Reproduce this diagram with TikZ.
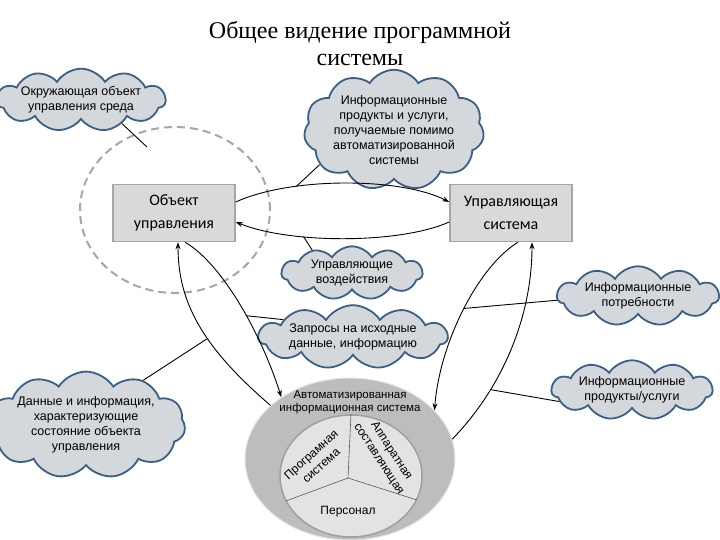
\documentclass[tikz,border=0pt]{standalone}
\usepackage{fontspec}
\setmainfont{Liberation Sans}
\newfontfamily\titlefont{Liberation Serif}
\newfontfamily\boxfont{Carlito}
\usetikzlibrary{shapes.symbols,shapes.geometric,arrows.meta}

\definecolor{cloudfill}{HTML}{D4D7DB}
\definecolor{cloudline}{HTML}{3E5F82}
\definecolor{boxfill}{HTML}{D9D9D9}
\definecolor{boxline}{HTML}{A6A6A6}
\definecolor{ringfill}{HTML}{BDBDBD}
\definecolor{piefill}{HTML}{E3E3E3}

\tikzset{
  cloudbox/.style={cloud, cloud puffs=11, cloud puff arc=115, cloud ignores aspect,
    draw=cloudline, line width=1.8pt, fill=cloudfill, align=center, inner sep=0pt,
    font=\fontsize{12.5}{15}\selectfont},
  ctrlbox/.style={draw=boxline, line width=1.5pt, fill=boxfill,
    minimum width=122pt, minimum height=57pt, align=center,
    font=\boxfont\fontsize{16}{23}\selectfont},
  arr/.style={-{Stealth[length=7pt,width=5pt]}, line width=0.9pt},
  link/.style={line width=0.9pt},
  dashcirc/.style={draw=boxline, line width=2pt, dash pattern=on 8pt off 5pt},
  sector/.style={align=center, font=\fontsize{12}{15}\selectfont},
}

\begin{document}
\begin{tikzpicture}[x=1pt,y=-1pt]
\fill[white] (0,0) rectangle (720,540);
\useasboundingbox (0,0) rectangle (720,540);

\node[font=\titlefont\fontsize{24}{27}\selectfont, align=center] (title) at (360,44)
  {Общее видение программной\\системы};

% environment
\draw[dashcirc] (175,210) ellipse[x radius=95pt, y radius=83pt];
\coordinate (envpt) at (147,147);

\node[cloudbox, minimum width=160pt, minimum height=52pt] (env) at (81,100)
  {Окружающая объект\\управления среда};
\node[cloudbox, minimum width=170pt, minimum height=98pt] (extra) at (394,130)
  {Информационные\\продукты и услуги,\\получаемые помимо\\автоматизированной\\системы};
\node[cloudbox, minimum width=141pt, minimum height=49pt] (ctrl) at (352,273)
  {Управляющие\\воздействия};
\node[cloudbox, minimum width=162pt, minimum height=58pt] (needs) at (638,296)
  {Информационные\\потребности};
\node[cloudbox, minimum width=189pt, minimum height=52pt] (req) at (353,337)
  {Запросы на исходные\\данные, информацию};
\node[cloudbox, minimum width=165pt, minimum height=96pt] (state) at (86,425)
  {Данные и информация,\\характеризующие\\состояние объекта\\управления};
\node[cloudbox, minimum width=161pt, minimum height=56pt] (prod) at (632,390)
  {Информационные\\продукты/услуги};

\node[ctrlbox] (obj) at (174,213) {Объект\\управления};
\node[ctrlbox] (upr) at (511,213) {Управляющая\\система};

% AIS
\node[ellipse, fill=ringfill, draw=white!80!gray, line width=1pt,
  minimum width=210pt, minimum height=162pt] (ais) at (350,459) {};
\node[ellipse, fill=piefill, draw=gray!75, line width=1.5pt,
  minimum width=142pt, minimum height=122pt] (pie) at (351,476) {};
\coordinate (pc) at (348,478);
\draw[gray!70!black, line width=0.6pt] (pc) -- (pie.north);
\draw[gray!70!black, line width=0.6pt] (pc) -- (pie.201);
\draw[gray!70!black, line width=0.6pt] (pc) -- (pie.340);

\node[align=center, font=\fontsize{11.5}{13.5}\selectfont] (aislbl) at (350,402)
  {Автоматизированная\\информационная система};
\node[sector, rotate=42] (soft) at (316,460) {Програмная\\система};
\node[sector, rotate=-57] (hard) at (385,455) {Аппаратная\\составляющая};
\node[sector] (staff) at (348,512) {Персонал};

% arrows
\draw[arr] ([yshift=11pt]obj.east) .. controls (290,177) and (400,177) ..
  ([yshift=11pt]upr.west) coordinate[pos=0.3] (topA);
\draw[arr] ([yshift=-9pt]upr.west) .. controls (400,244) and (290,244) ..
  ([yshift=-9pt]obj.east) coordinate[pos=0.67] (botA);

\draw[arr] (ais.146) .. controls (200,345) and (178,300) ..
  ([xshift=4pt]obj.south) coordinate[pos=0.4] (lA);
\draw[arr] ([xshift=11pt]obj.south) .. controls (220,262) and (260,330) ..
  (ais.138) coordinate[pos=0.58] (lB);

\draw[arr] ([xshift=7pt]upr.south) .. controls (480,265) and (440,340) ..
  (ais.30) coordinate[pos=0.5] (rC);
\draw[arr] (ais.11) .. controls (500,390) and (532,320) ..
  ([xshift=21pt]upr.south) coordinate[pos=0.3] (rD);

% links
\draw[link] (env.-30) -- (envpt);
\draw[link] (extra.205) -- (topA);
\draw[link] (botA) -- (ctrl.150);
\draw[link] (lA) -- (state.38);
\draw[link] (lB) -- (req.166);
\draw[link] (rC) -- (needs.183);
\draw[link] (rD) -- (prod.189);

\end{tikzpicture}
\end{document}
